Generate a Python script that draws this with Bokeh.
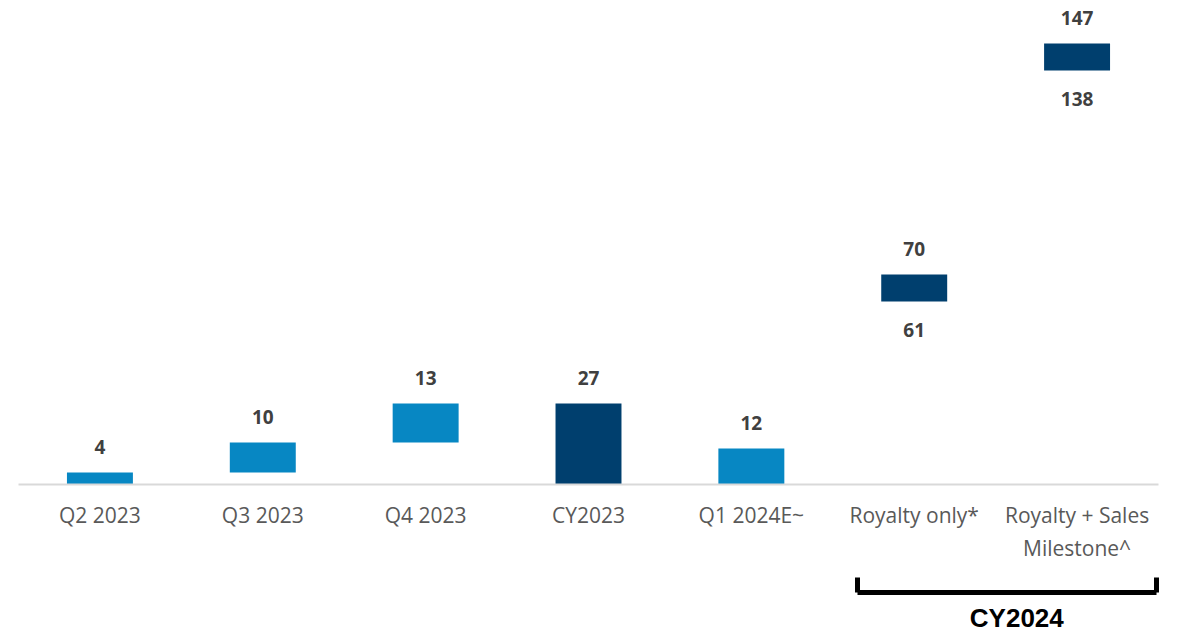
from bokeh.plotting import figure
from bokeh.models import (ColumnDataSource, Range1d, LinearAxis, FixedTicker)
from bokeh.core.properties import value
from bokeh.embed import file_html
from bokeh.resources import INLINE

# ---- data ----
categories = ["Q2 2023", "Q3 2023", "Q4 2023", "CY2023", "Q1 2024E~",
              "Royalty only*", "Royalty + Sales\nMilestone^"]
bar_bottom = [0, 4, 14, 0, 0, 61, 138]
bar_top = [4, 14, 27, 27, 12, 70, 147]
top_labels = ["4", "10", "13", "27", "12", "70", "147"]
low_labels = ["", "", "", "", "", "61", "138"]
kind = ["q", "q", "q", "y", "q", "y", "y"]
group_label = "CY2024"
group_members = ["Royalty only*", "Royalty + Sales\nMilestone^"]

LIGHT = "#0787C3"
DARK = "#003F6E"
colors = [LIGHT if k == "q" else DARK for k in kind]
xpos = [i + 0.5 for i in range(len(categories))]

src = ColumnDataSource(dict(x=xpos, bottom=bar_bottom, top=bar_top,
                            tl=top_labels, ll=low_labels, color=colors))

p = figure(x_range=Range1d(0, len(categories)), y_range=Range1d(0, 476 / 3),
           frame_width=1140, frame_height=476,
           min_border_left=18, min_border_right=13, min_border_top=8,
           min_border_bottom=0, y_axis_location=None, x_axis_location=None,
           output_backend="svg", toolbar_location=None)
p.outline_line_color = None
p.xgrid.grid_line_color = None
p.ygrid.grid_line_color = None
p.background_fill_color = "white"
p.border_fill_color = "white"

p.vbar(x="x", bottom="bottom", top="top", width=0.405, color="color",
       line_color=None, source=src)

p.text(x="x", y="top", text="tl", source=src, text_align="center",
       text_baseline="middle", y_offset=-26, text_font=value("Open Sans"),
       text_font_style="bold", text_font_size="19px", text_color="#404040")
p.text(x="x", y="bottom", text="ll", source=src, text_align="center",
       text_baseline="middle", y_offset=28, text_font=value("Open Sans"),
       text_font_style="bold", text_font_size="19px", text_color="#404040")

# category axis (baseline + labels)
ax = LinearAxis(ticker=FixedTicker(ticks=xpos),
                major_label_overrides={x: c for x, c in zip(xpos, categories)})
ax.axis_line_color = "#D9D9D9"
ax.axis_line_width = 2
ax.major_tick_line_color = None
ax.minor_tick_line_color = None
ax.major_label_standoff = 10
ax.major_label_text_font = "Open Sans"
ax.major_label_text_font_size = "21px"
ax.major_label_text_color = "#595959"
ax.axis_label = " "
ax.axis_label_text_font_size = "10px"
ax.axis_label_standoff = 13
p.add_layout(ax, "below")

# bracket under the CY2024 group
gi = [categories.index(m) for m in group_members]
b0 = min(gi) + 0.15
b1 = max(gi) + 0.99
br = LinearAxis(bounds=(b0, b1), ticker=FixedTicker(ticks=[b0, b1]),
                major_label_overrides={b0: "", b1: ""})
br.axis_line_width = 5
br.axis_line_color = "black"
br.major_tick_line_width = 5
br.major_tick_line_color = "black"
br.major_tick_in = 15
br.major_tick_out = 0
br.minor_tick_line_color = None
br.major_label_text_font_size = "1px"
br.major_label_text_color = None
br.major_label_standoff = 0
p.add_layout(br, "below")

gc = (b0 + b1) / 2 + 0.06
gl = LinearAxis(ticker=FixedTicker(ticks=[gc]),
                major_label_overrides={gc: group_label})
gl.axis_line_color = None
gl.major_tick_line_color = None
gl.minor_tick_line_color = None
gl.major_label_standoff = 4
gl.major_label_text_font = "Liberation Sans"
gl.major_label_text_font_style = "bold"
gl.major_label_text_font_size = "26px"
gl.major_label_text_color = "#000000"
p.add_layout(gl, "below")

open("out.html", "w").write(file_html(p, INLINE))
